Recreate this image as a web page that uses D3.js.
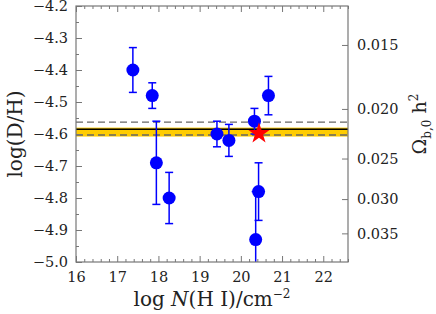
<!DOCTYPE html>
<html>
<head>
<meta charset="utf-8">
<script src="https://cdn.jsdelivr.net/npm/d3@7"></script>
<style>
  body { margin: 0; background: #fff; }
  text { font-family: "DejaVu Serif", "Liberation Serif", serif; }
</style>
</head>
<body>
<svg id="chart" width="436" height="314"></svg>
<script>
// measurements: log N(HI), log(D/H), error
var logN = [17.38, 17.85, 17.95, 18.26, 19.42, 19.71, 20.33, 20.67, 20.43, 20.36];
var logDH = [-4.40, -4.48, -4.69, -4.80, -4.60, -4.62, -4.56, -4.48, -4.78, -4.93];
var errDH = [0.07, 0.04, 0.13, 0.08, 0.04, 0.05, 0.04, 0.06, 0.09, 0.15];

// star (CMB / mean value)
var starN = [20.44];
var starDH = [-4.595];

// horizontal reference lines
var bandDH = [-4.580, -4.608];
var solidDH = [-4.585];
var dashedDH = [-4.563, -4.603];

var yTicks = [-5.0, -4.9, -4.8, -4.7, -4.6, -4.5, -4.4, -4.3, -4.2];
var xTicks = [16, 17, 18, 19, 20, 21, 22];
var omegaTicks = [0.015, 0.020, 0.025, 0.030, 0.035];

(function() {
    var svg = d3.select("#chart");
    var pLeft = 76, pRight = 348, pTop = 6, pBottom = 262;
    var frameColor = "#777";

    var x = d3.scaleLinear().domain([16, 22.6]).range([pLeft, pRight]);
    var y = d3.scaleLinear().domain([-5.0, -4.2]).range([pBottom, pTop]);

    // log(D/H) as function of Omega_b h^2
    function omegaToDH(o) {
        return -7.24 - 1.6 * Math.log10(o);
    }

    svg.append("clipPath").attr("id", "clip")
        .append("rect").attr("x", pLeft).attr("y", pTop)
        .attr("width", pRight - pLeft).attr("height", pBottom - pTop);
    var plot = svg.append("g").attr("clip-path", "url(#clip)");

    // yellow band
    plot.append("rect")
        .attr("x", pLeft).attr("width", pRight - pLeft)
        .attr("y", y(bandDH[0])).attr("height", y(bandDH[1]) - y(bandDH[0]))
        .attr("fill", "#ffcc00");

    plot.selectAll("line.solid").data(solidDH).enter().append("line")
        .attr("class", "solid")
        .attr("x1", pLeft).attr("x2", pRight)
        .attr("y1", d => y(d)).attr("y2", d => y(d))
        .attr("stroke", "#000").attr("stroke-width", 1.6);

    plot.selectAll("line.dashed").data(dashedDH).enter().append("line")
        .attr("class", "dashed")
        .attr("x1", pLeft).attr("x2", pRight)
        .attr("y1", d => y(d)).attr("y2", d => y(d))
        .attr("stroke", "#666").attr("stroke-width", 1.4)
        .attr("stroke-dasharray", "7,4");

    // error bars
    var pts = d3.range(logN.length).map(i => ({n: logN[i], dh: logDH[i], e: errDH[i]}));
    var eb = plot.selectAll("g.eb").data(pts).enter().append("g")
        .attr("stroke", "#0000ff").attr("stroke-width", 1.5);
    eb.append("line")
        .attr("x1", d => x(d.n)).attr("x2", d => x(d.n))
        .attr("y1", d => y(d.dh + d.e)).attr("y2", d => y(d.dh - d.e));
    eb.append("line")
        .attr("x1", d => x(d.n) - 4).attr("x2", d => x(d.n) + 4)
        .attr("y1", d => y(d.dh + d.e)).attr("y2", d => y(d.dh + d.e));
    eb.append("line")
        .attr("x1", d => x(d.n) - 4).attr("x2", d => x(d.n) + 4)
        .attr("y1", d => y(d.dh - d.e)).attr("y2", d => y(d.dh - d.e));

    plot.selectAll("circle").data(pts).enter().append("circle")
        .attr("cx", d => x(d.n)).attr("cy", d => y(d.dh))
        .attr("r", 6.5).attr("fill", "#0000ff");

    // star
    var star = d3.symbol().type(d3.symbolStar).size(140);
    plot.selectAll("path.star").data(starN).enter().append("path")
        .attr("class", "star")
        .attr("d", star)
        .attr("transform", (d, i) => "translate(" + x(d) + "," + (y(starDH[i]) + 1) + ")")
        .attr("fill", "#ff0000");

    // axes
    function styleAxis(g) {
        g.select(".domain").remove();
        g.selectAll(".tick line").attr("stroke", frameColor).attr("stroke-width", 1);
        g.selectAll(".tick text").attr("fill", "#222").style("font-size", "14.5px");
    }
    var minorY = d3.range(-4.95, -4.2, 0.1);
    var minorX = d3.range(16.2, 22.6, 0.2).filter(v => Math.abs(v - Math.round(v)) > 0.05);

    svg.append("g").attr("transform", "translate(" + pLeft + ",0)")
        .call(d3.axisLeft(y).tickValues(yTicks).tickSize(-6).tickPadding(8).tickFormat(d3.format(".1f")))
        .call(styleAxis);
    svg.append("g").attr("transform", "translate(" + pLeft + ",0)")
        .call(d3.axisLeft(y).tickValues(minorY).tickSize(-3).tickFormat(""))
        .call(styleAxis);

    svg.append("g").attr("transform", "translate(0," + pBottom + ")")
        .call(d3.axisBottom(x).tickValues(xTicks).tickSize(-6).tickPadding(10).tickFormat(d3.format("d")))
        .call(styleAxis);
    svg.append("g").attr("transform", "translate(0," + pBottom + ")")
        .call(d3.axisBottom(x).tickValues(minorX).tickSize(-3).tickFormat(""))
        .call(styleAxis);
    svg.append("g").attr("transform", "translate(0," + pTop + ")")
        .call(d3.axisTop(x).tickValues(xTicks).tickSize(-6).tickFormat(""))
        .call(styleAxis);
    svg.append("g").attr("transform", "translate(0," + pTop + ")")
        .call(d3.axisTop(x).tickValues(minorX).tickSize(-3).tickFormat(""))
        .call(styleAxis);

    svg.append("g").attr("transform", "translate(" + pRight + ",0)")
        .call(d3.axisRight(y).tickValues(omegaTicks.map(omegaToDH)).tickSize(-6).tickPadding(9)
            .tickFormat((d, i) => d3.format(".3f")(omegaTicks[i])))
        .call(styleAxis);

    // frame
    svg.append("rect")
        .attr("x", pLeft).attr("y", pTop)
        .attr("width", pRight - pLeft).attr("height", pBottom - pTop)
        .attr("fill", "none").attr("stroke", frameColor).attr("stroke-width", 1.2);

    // axis titles
    var xl = svg.append("text")
        .attr("x", (pLeft + pRight) / 2).attr("y", 306)
        .attr("text-anchor", "middle").attr("fill", "#222").style("font-size", "20px");
    xl.append("tspan").text("log ");
    xl.append("tspan").attr("font-style", "italic").text("N");
    xl.append("tspan").text("(H I)/cm");
    xl.append("tspan").attr("dy", -8).style("font-size", "12px").text("\u22122");

    svg.append("text")
        .attr("transform", "translate(22," + ((pTop + pBottom) / 2) + ") rotate(-90)")
        .attr("text-anchor", "middle").attr("fill", "#222").style("font-size", "20px")
        .text("log(D/H)");

    var rl = svg.append("text")
        .attr("transform", "translate(426,124) rotate(-90)")
        .attr("text-anchor", "middle").attr("fill", "#222").style("font-size", "19px");
    rl.append("tspan").text("\u03a9");
    rl.append("tspan").attr("dy", 5).style("font-size", "12px").text("b,0");
    rl.append("tspan").attr("dy", -5).text(" h");
    rl.append("tspan").attr("dy", -8).style("font-size", "12px").text("2");
})();
</script>
</body>
</html>
